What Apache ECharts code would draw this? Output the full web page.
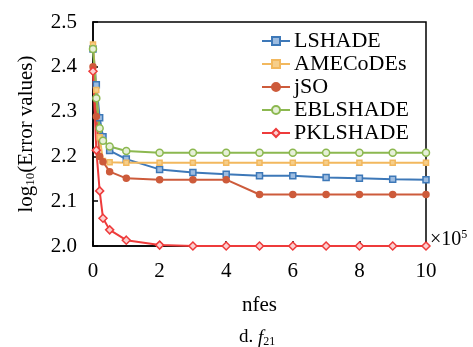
<!DOCTYPE html>
<html>
<head>
<meta charset="utf-8">
<script src="https://cdn.jsdelivr.net/npm/echarts@6/dist/echarts.min.js"></script>
<style>
  html, body { margin: 0; padding: 0; background: #fff; }
  #chart { width: 473px; height: 347px; }
</style>
</head>
<body>
<div id="chart"></div>
<script>
// nfes (x10^5)
const nfes = [0, 0.1, 0.2, 0.3, 0.5, 1, 2, 3, 4, 5, 6, 7, 8, 9, 10]

const lshade    = [2.44, 2.36, 2.286, 2.244, 2.213, 2.194, 2.171, 2.164, 2.160, 2.157, 2.157, 2.153, 2.151, 2.149, 2.148]
const amecodes  = [2.45, 2.348, 2.243, 2.19, 2.187, 2.186, 2.186, 2.186, 2.186, 2.186, 2.186, 2.186, 2.186, 2.186, 2.186]
const jso       = [2.40, 2.289, 2.20, 2.188, 2.166, 2.151, 2.148, 2.148, 2.148, 2.115, 2.115, 2.115, 2.115, 2.115, 2.115]
const eblshade  = [2.44, 2.33, 2.263, 2.235, 2.222, 2.212, 2.208, 2.208, 2.208, 2.208, 2.208, 2.208, 2.208, 2.208, 2.208]
const pklshade  = [2.39, 2.214, 2.123, 2.062, 2.036, 2.013, 2.002, 2.0, 2.0, 2.0, 2.0, 2.0, 2.0, 2.0, 2.0]

const serif = 'Liberation Serif'

const pairs = (ys) => nfes.map((x, i) => [x, ys[i]])

const mkSeries = (name, ys, color, symbol, fill, size) => ({
  name,
  type: 'line',
  data: pairs(ys),
  symbol,
  symbolSize: size,
  lineStyle: { color, width: 2 },
  itemStyle: { color: fill, borderColor: color, borderWidth: 1.5 },
  emphasis: { disabled: true }
})

const chart = echarts.init(document.getElementById('chart'))

chart.setOption({
  animation: false,
  backgroundColor: '#fff',
  grid: {
    left: 93, right: 47, top: 22, bottom: 101,
    show: true, borderColor: '#000', borderWidth: 1.5, backgroundColor: 'transparent'
  },
  legend: {
    orient: 'vertical',
    left: 256, top: 25,
    itemWidth: 28, itemHeight: 10, itemGap: 1,
    textStyle: { fontFamily: serif, fontSize: 22, color: '#000', lineHeight: 20, padding: [0, 0, 0, -1] },
    data: ['LSHADE', 'AMECoDEs', 'jSO', 'EBLSHADE', 'PKLSHADE']
  },
  xAxis: {
    type: 'value',
    min: 0, max: 10, interval: 2,
    name: 'nfes',
    nameLocation: 'middle',
    nameGap: 49,
    nameTextStyle: { fontFamily: serif, fontSize: 21, color: '#000' },
    axisLine: { lineStyle: { color: '#000', width: 1.5 } },
    axisTick: { inside: true, length: 5, lineStyle: { color: '#000', width: 1.5 } },
    axisLabel: { fontFamily: serif, fontSize: 21, color: '#000', margin: 15 },
    splitLine: { show: false }
  },
  yAxis: {
    type: 'value',
    min: 2.0, max: 2.5, interval: 0.1,
    name: '{a|log}{s|10}{a|(Error values)}',
    nameLocation: 'middle',
    nameGap: 56,
    nameRotate: 90,
    nameTextStyle: {
      rich: {
        a: { fontFamily: serif, fontSize: 21, color: '#000' },
        s: { fontFamily: serif, fontSize: 13, color: '#000', padding: [9, 0, 0, 0] }
      }
    },
    axisLine: { lineStyle: { color: '#000', width: 1.5 } },
    axisTick: { inside: true, length: 5, lineStyle: { color: '#000', width: 1.5 } },
    axisLabel: {
      fontFamily: serif, fontSize: 21, color: '#000', margin: 16,
      formatter: (v) => v.toFixed(1)
    },
    splitLine: { show: false }
  },
  graphic: [
    {
      type: 'text', left: 430, top: 229,
      style: {
        text: '{a|×10}{e|5}',
        rich: {
          a: { fontFamily: serif, fontSize: 20, fill: '#000' },
          e: { fontFamily: serif, fontSize: 12, fill: '#000', padding: [0, 0, 10, 0] }
        }
      }
    },
    {
      type: 'text', left: 239, top: 328,
      style: {
        text: '{a|d. }{f|f}{s|21}',
        rich: {
          a: { fontFamily: serif, fontSize: 19, fill: '#000' },
          f: { fontFamily: serif, fontSize: 19, fontStyle: 'italic', fill: '#000' },
          s: { fontFamily: serif, fontSize: 12, fill: '#000', padding: [8, 0, 0, 0] }
        }
      }
    }
  ],
  series: [
    mkSeries('LSHADE', lshade, '#3D78B8', 'rect', '#9DBCE0', 6),
    mkSeries('AMECoDEs', amecodes, '#F2B85E', 'rect', '#F6CE8A', 5),
    mkSeries('jSO', jso, '#CD5B3B', 'circle', '#CD5B3B', 6),
    mkSeries('EBLSHADE', eblshade, '#8CB850', 'circle', '#E6F0D8', 7),
    mkSeries('PKLSHADE', pklshade, '#EE3B3B', 'diamond', '#FBD0D0', 8)
  ]
})
</script>
</body>
</html>
